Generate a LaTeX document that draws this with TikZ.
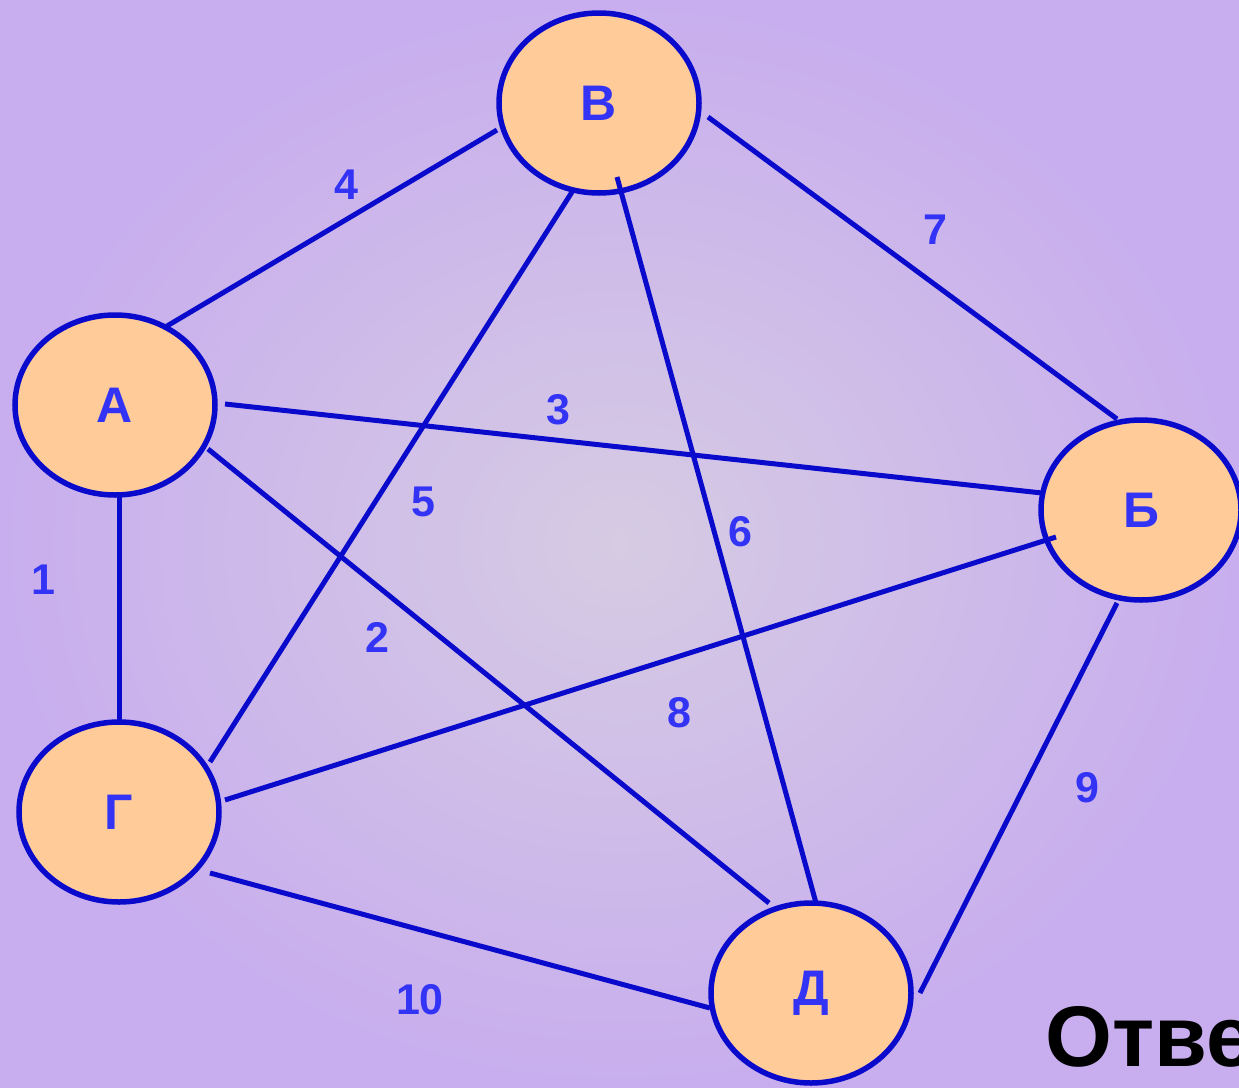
\documentclass[tikz,border=0pt]{standalone}
\usepackage{fontspec}
\setmainfont{Liberation Sans}
\usetikzlibrary{shapes.geometric}
\definecolor{bgin}{HTML}{D6CBE3}
\definecolor{bgout}{HTML}{C8AEEE}
\definecolor{nodefill}{HTML}{FFCC99}
\definecolor{edgeblue}{HTML}{0A0ACC}
\definecolor{txtblue}{HTML}{3333F5}
\tikzset{
  vert/.style={ellipse, draw=edgeblue, fill=nodefill, line width=5.5pt,
    minimum width=200pt, minimum height=180pt, inner sep=0pt,
    text=txtblue, font=\fontsize{50}{50}\selectfont\bfseries},
  edge/.style={draw=edgeblue, line width=5pt},
  wlabel/.style={text=txtblue, font=\fontsize{43}{43}\selectfont\bfseries, inner sep=0pt}
}
\begin{document}
\begin{tikzpicture}[x=1pt,y=-1pt]
\shade[inner color=bgin, outer color=bgout] (0,0) rectangle (1239,1087);
\useasboundingbox (0,0) rectangle (1239,1087);
\node[vert] (V) at (599,103) {В};
\node[vert] (A) at (115,405) {А};
\node[vert] (B) at (1141,510) {Б};
\node[vert] (G) at (119,812) {Г};
\node[vert] (D) at (811,993) {Д};
\draw[edge] ([shift={(52,-79)}]A.center) -- ([shift={(-102,27)}]V.center);
\draw[edge] ([shift={(109,14)}]V.center) -- ([shift={(-24,-91)}]B.center);
\draw[edge] ([shift={(110,-1)}]A.center) -- ([shift={(-99,-17)}]B.center);
\draw[edge] ([shift={(4,92)}]A.center) -- ([shift={(0,-92)}]G.center);
\draw[edge] ([shift={(93,44)}]A.center) -- ([shift={(-42,-90)}]D.center);
\draw[edge] ([shift={(-27,89)}]V.center) -- ([shift={(91,-50)}]G.center);
\draw[edge] ([shift={(18,74)}]V.center) -- ([shift={(5,-90)}]D.center);
\draw[edge] ([shift={(106,-12)}]G.center) -- ([shift={(-85,27)}]B.center);
\draw[edge] ([shift={(91,61)}]G.center) -- ([shift={(-101,15)}]D.center);
\draw[edge] ([shift={(-24,93)}]B.center) -- ([shift={(109,0)}]D.center);
\node[wlabel] (l4) at (346,185) {4};
\node[wlabel] (l7) at (935,230) {7};
\node[wlabel] (l3) at (558,410) {3};
\node[wlabel] (l5) at (423,502) {5};
\node[wlabel] (l6) at (740,532) {6};
\node[wlabel] (l1) at (43,580) {1};
\node[wlabel] (l2) at (377,637) {2};
\node[wlabel] (l8) at (679,713) {8};
\node[wlabel] (l9) at (1087,788) {9};
\node[wlabel] (l10) at (420,1000) {10};
\node[anchor=base west, inner sep=0pt, font=\fontsize{86}{86}\selectfont\bfseries] (ans) at (1045,1066) {Ответ};
\end{tikzpicture}
\end{document}
